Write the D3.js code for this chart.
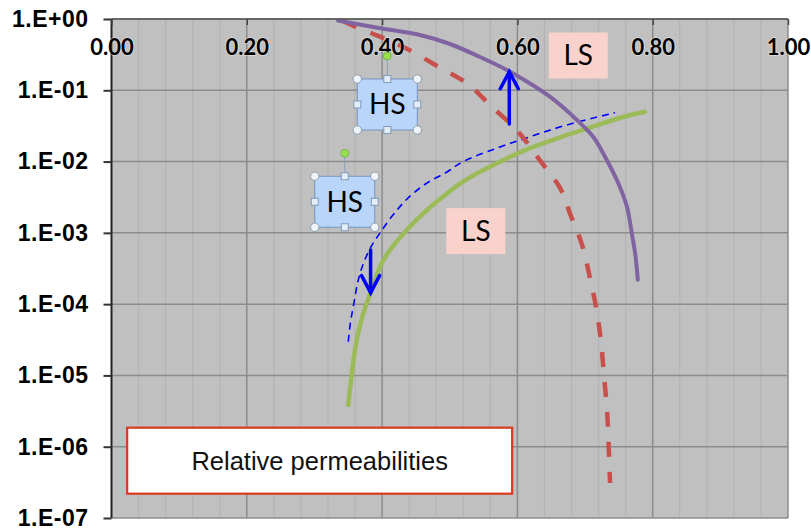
<!DOCTYPE html>
<html>
<head>
<meta charset="utf-8">
<script src="https://cdn.jsdelivr.net/npm/d3@7"></script>
<style>
  body { margin: 0; background: #fff; }
  svg { display: block; }
</style>
</head>
<body>
<svg id="chart"></svg>
<script>
const width = 811, height = 528;

// saturation values (x) and relative permeabilities (y)
const purpleSw = [0.335, 0.3995, 0.456, 0.5004, 0.5447, 0.589, 0.648, 0.688, 0.712, 0.7265, 0.749, 0.762, 0.769, 0.774, 0.778];
const purpleKr = [0.95, 0.735, 0.597, 0.446, 0.293, 0.182, 0.0813, 0.0383, 0.0223, 0.0132, 0.0050, 0.0023, 0.0010, 0.00052, 0.00022];

const redSw = [0.342, 0.3555, 0.394, 0.435, 0.484, 0.527, 0.5625, 0.599, 0.633, 0.663, 0.678, 0.6955, 0.707, 0.717, 0.7236, 0.728, 0.7324, 0.7347, 0.7369];
const redKr = [0.94, 0.82, 0.58, 0.39, 0.212, 0.122, 0.0583, 0.0277, 0.0105, 0.00427, 0.00184, 0.00068, 0.00024, 8.3e-5, 2.95e-5, 1.0e-5, 3.3e-6, 1.2e-6, 3.1e-7];

const greenSw = [0.350, 0.3565, 0.3625, 0.3722, 0.3846, 0.3969, 0.4117, 0.4364, 0.4609, 0.4856, 0.5196, 0.5694, 0.6186, 0.6729, 0.7029, 0.7561, 0.7886];
const greenKr = [3.85e-6, 1.33e-5, 3.15e-5, 7.45e-5, 1.58e-4, 3.36e-4, 5.75e-4, 1.10e-3, 1.88e-3, 2.99e-3, 5.23e-3, 9.46e-3, 0.0154, 0.0236, 0.0291, 0.0422, 0.0501];

const blueSw = [0.3500, 0.3533, 0.3574, 0.3648, 0.3732, 0.3836, 0.3969, 0.4161, 0.4383, 0.4664, 0.4959, 0.5196, 0.5694, 0.6186, 0.6729, 0.7443];
const blueKr = [2.98e-5, 5.62e-5, 9.2e-5, 2.18e-4, 3.91e-4, 6.34e-4, 9.98e-4, 1.78e-3, 3.08e-3, 5.01e-3, 7.15e-3, 9.97e-3, 0.0154, 0.0223, 0.0326, 0.0485];

// arrows: [sw, krFrom, krTo]
const arrowUp = [0.588, 0.0337, 0.182];
const arrowDown = [0.383, 5.75e-4, 1.45e-4];

// annotation labels: text and centre in data space
const labelText = ["HS", "HS", "LS", "LS"];
const labelSw = [0.4077, 0.3448, 0.6900, 0.5385];
const labelKr = [0.0632, 2.73e-3, 0.3076, 1.057e-3];

const xTicks = [0, 0.2, 0.4, 0.6, 0.8, 1.0];
const xTickLabels = ["0.00", "0.20", "0.40", "0.60", "0.80", "1.00"];
const yTicks = [1, 1e-1, 1e-2, 1e-3, 1e-4, 1e-5, 1e-6, 1e-7];
const yTickLabels = ["1.E+00", "1.E-01", "1.E-02", "1.E-03", "1.E-04", "1.E-05", "1.E-06", "1.E-07"];

const legendTitle = "Relative permeabilities";

const pLeft = 111.5, pRight = 788, pTop = 19, pBottom = 518;

const svg = d3.select("#chart").attr("width", width).attr("height", height);

const x = d3.scaleLinear().domain([0, 1]).range([pLeft, pRight]);
const y = d3.scaleLog().domain([1e-7, 1]).range([pBottom, pTop]);

svg.append("defs").append("clipPath").attr("id", "plot-clip")
  .append("rect").attr("x", pLeft).attr("y", pTop).attr("width", pRight - pLeft).attr("height", pBottom - pTop);

// plot background
svg.append("rect")
  .attr("x", pLeft).attr("y", pTop)
  .attr("width", pRight - pLeft).attr("height", pBottom - pTop)
  .attr("fill", "#c0c0c0");

// minor vertical grid every 0.04
svg.append("g").selectAll("line")
  .data(d3.range(1, 25).map(i => i * 0.04).filter(v => Math.abs(v / 0.2 - Math.round(v / 0.2)) > 0.01))
  .enter().append("line")
  .attr("x1", d => x(d)).attr("x2", d => x(d))
  .attr("y1", pTop).attr("y2", pBottom)
  .attr("stroke", "#b3b3b3").attr("stroke-width", 1.2);

// major grid
svg.append("g").selectAll("line")
  .data(xTicks.slice(1))
  .enter().append("line")
  .attr("x1", d => x(d)).attr("x2", d => x(d))
  .attr("y1", pTop).attr("y2", pBottom)
  .attr("stroke", "#8c8c8c").attr("stroke-width", 1.5);
svg.append("g").selectAll("line")
  .data(yTicks)
  .enter().append("line")
  .attr("x1", pLeft).attr("x2", pRight)
  .attr("y1", d => y(d)).attr("y2", d => y(d))
  .attr("stroke", "#8c8c8c").attr("stroke-width", 1.5);

// curves
const plot = svg.append("g").attr("clip-path", "url(#plot-clip)");
const line = d3.line().x(d => x(d[0])).y(d => y(d[1])).curve(d3.curveCatmullRom.alpha(0.5));

plot.append("path")
  .datum(d3.zip(blueSw, blueKr))
  .attr("fill", "none").attr("stroke", "#0000ff").attr("stroke-width", 1.6)
  .attr("stroke-dasharray", "7,5")
  .attr("d", line);

plot.append("path")
  .datum(d3.zip(redSw, redKr))
  .attr("fill", "none").attr("stroke", "#c8504c").attr("stroke-width", 4.5)
  .attr("stroke-dasharray", "15,15")
  .attr("d", line);

plot.append("path")
  .datum(d3.zip(greenSw, greenKr))
  .attr("fill", "none").attr("stroke", "#9bbb59").attr("stroke-width", 4.5)
  .attr("stroke-linecap", "round")
  .attr("d", line);

plot.append("path")
  .datum(d3.zip(purpleSw, purpleKr))
  .attr("fill", "none").attr("stroke", "#8064a2").attr("stroke-width", 4)
  .attr("stroke-linecap", "round")
  .attr("d", line);

// axes
const yAxis = svg.append("g")
  .attr("transform", `translate(${pLeft},0)`)
  .call(d3.axisLeft(y).tickValues(yTicks).tickSize(8).tickPadding(15)
    .tickFormat((d, i) => yTickLabels[i]));
yAxis.select(".domain").attr("stroke", "#222").attr("stroke-width", 2).attr("d", `M0,${pTop}V${pBottom}`);
yAxis.selectAll(".tick line").attr("stroke", "#333").attr("stroke-width", 2);
yAxis.selectAll(".tick text")
  .attr("fill", "#000")
  .style("font-family", "'Liberation Sans', Arial, sans-serif")
  .style("font-weight", "bold").style("font-size", "23px")
  .style("letter-spacing", "0.5px");

const xAxis = svg.append("g")
  .attr("transform", `translate(0,${pTop})`)
  .call(d3.axisBottom(x).tickValues(xTicks).tickSize(6)
    .tickFormat((d, i) => xTickLabels[i]));
xAxis.select(".domain").attr("stroke", "#555").attr("stroke-width", 1.5).attr("d", `M${pLeft},0H${pRight}`);
xAxis.selectAll(".tick line").attr("stroke", "#444").attr("stroke-width", 1.5);
xAxis.selectAll(".tick text")
  .attr("y", 36).attr("dy", 0)
  .attr("fill", "#000")
  .attr("stroke", "#fff").attr("stroke-width", 1.5).attr("stroke-opacity", 0.5)
  .attr("paint-order", "stroke")
  .style("font-family", "Lato, 'Open Sans', sans-serif")
  .style("font-weight", "bold").style("font-size", "22px");

// arrows
function drawArrow(a) {
  const sx = x(a[0]), y1 = y(a[1]), y2 = y(a[2]);
  const dir = y2 < y1 ? 1 : -1;
  const g = svg.append("g").attr("stroke", "#0000ff").attr("stroke-width", 3.5).attr("fill", "none")
    .attr("stroke-linecap", "round");
  g.append("line").attr("x1", sx).attr("y1", y1).attr("x2", sx).attr("y2", y2);
  g.append("path").attr("d", `M${sx - 9},${y2 + dir * 17}L${sx},${y2}L${sx + 9},${y2 + dir * 17}`);
}
drawArrow(arrowUp);
drawArrow(arrowDown);

// annotation boxes
const font = "Lato, 'Open Sans', sans-serif";
labelText.forEach((t, i) => {
  const cx = x(labelSw[i]), cy = y(labelKr[i]);
  const g = svg.append("g");
  if (t === "HS") {
    const w = 60, h = 51;
    const x0 = cx - w / 2, y0 = cy - h / 2;
    g.append("rect").attr("x", x0).attr("y", y0).attr("width", w).attr("height", h)
      .attr("fill", "#b9d5f9").attr("stroke", "#7495c4").attr("stroke-width", 1);
    g.append("line").attr("x1", cx).attr("x2", cx).attr("y1", y0).attr("y2", y0 - 22)
      .attr("stroke", "#8aa0b8").attr("stroke-width", 1);
    g.append("text").attr("x", cx).attr("y", cy + 10).attr("text-anchor", "middle")
      .style("font-family", font).style("font-size", "28px").attr("fill", "#000").text(t);
    [[0, 0], [w, 0], [0, h], [w, h]].forEach(p => {
      g.append("circle").attr("cx", x0 + p[0]).attr("cy", y0 + p[1]).attr("r", 4.2)
        .attr("fill", "#eef4f8").attr("stroke", "#8c9eae").attr("stroke-width", 1);
    });
    [[w / 2, 0], [0, h / 2], [w, h / 2], [w / 2, h]].forEach(p => {
      g.append("rect").attr("x", x0 + p[0] - 3.5).attr("y", y0 + p[1] - 3.5).attr("width", 7).attr("height", 7)
        .attr("fill", "#e4eef8").attr("stroke", "#7f9ab8").attr("stroke-width", 1);
    });
    g.append("circle").attr("cx", cx).attr("cy", y0 - 23).attr("r", 4)
      .attr("fill", "#99e048").attr("stroke", "#79b060").attr("stroke-width", 1);
  } else {
    const w = 59, h = 46;
    g.append("rect").attr("x", cx - w / 2).attr("y", cy - h / 2).attr("width", w).attr("height", h)
      .attr("fill", "#f9d2cc");
    g.append("text").attr("x", cx).attr("y", cy + 10).attr("text-anchor", "middle")
      .style("font-family", font).style("font-size", "28px").attr("fill", "#000").text(t);
  }
});

// legend / title box
const legX = x(0.3077), legY = y(6.37e-7);
svg.append("rect")
  .attr("x", legX - 192.5).attr("y", legY - 33)
  .attr("width", 385).attr("height", 66)
  .attr("fill", "#fff").attr("stroke", "#d8391f").attr("stroke-width", 2.2);
svg.append("text")
  .attr("x", legX).attr("y", legY + 9)
  .attr("text-anchor", "middle")
  .style("font-family", "'Liberation Sans', Arial, sans-serif")
  .style("font-size", "25.5px")
  .attr("fill", "#111")
  .text(legendTitle);
</script>
</body>
</html>
